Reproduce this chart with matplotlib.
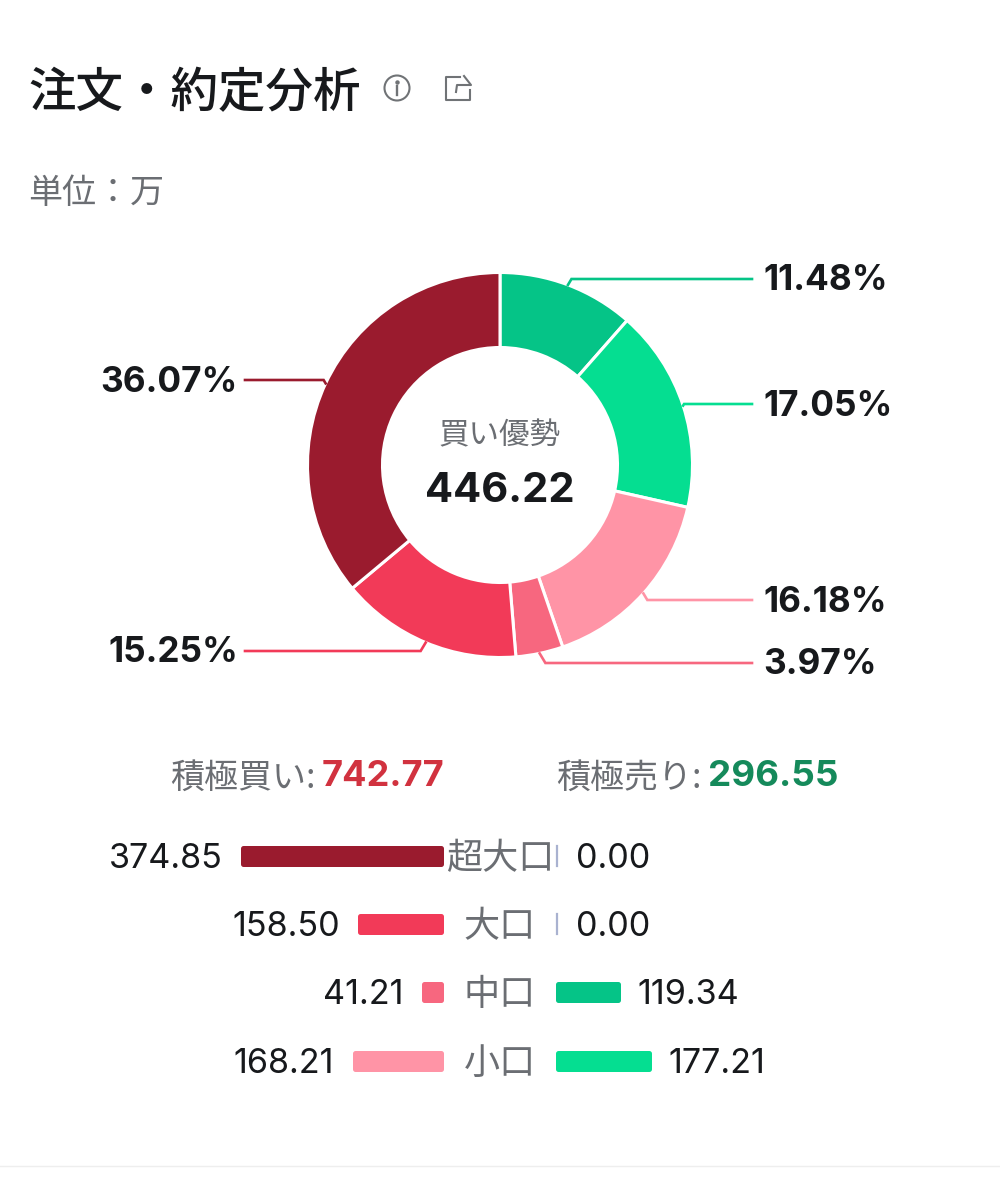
import numpy as np
import matplotlib
matplotlib.use("Agg")
import matplotlib.pyplot as plt
from matplotlib.patches import Circle

plt.rcParams['font.family'] = ['Noto Sans CJK JP', 'DejaVu Sans']

# Order-flow data, in units of 10,000 shares
sizes = ["超大口", "大口", "中口", "小口"]
buy_values = [374.85, 158.50, 41.21, 168.21]
sell_values = [0.00, 0.00, 119.34, 177.21]
buy_labels = ["374.85", "158.50", "41.21", "168.21"]
sell_labels = ["0.00", "0.00", "119.34", "177.21"]

# Ring segments, clockwise from twelve o'clock
ring_values = [119.34, 177.21, 168.21, 41.21, 158.50, 374.85]
ring_labels = ["11.48%", "17.05%", "16.18%", "3.97%", "15.25%", "36.07%"]
ring_colors = ["#05C487", "#05DE91", "#FF94A6", "#F7677F", "#F23A58", "#9A1B2E"]
buy_colors = ["#9A1B2E", "#F23A58", "#F7677F", "#FF94A6"]
sell_colors = ["#A9B2D0", "#A9B2D0", "#05C487", "#05DE91"]

title = "注文・約定分析"
unit_text = "単位：万"
center_caption = "買い優勢"
center_value = "446.22"
buy_total_caption, buy_total = "積極買い:", "742.77"
sell_total_caption, sell_total = "積極売り:", "296.55"

W, H = 1000, 1200
fig = plt.figure(figsize=(W / 100, H / 100), dpi=100, facecolor="white")

# Full-figure layer addressed in pixels for text, icons and leader lines
ov = fig.add_axes([0, 0, 1, 1], zorder=3)
ov.set_xlim(0, W)
ov.set_ylim(H, 0)
ov.axis("off")
ov.patch.set_alpha(0)

NUM_FONT = ['Inter', 'Noto Sans CJK JP']
INK = "#17191C"
GREY = "#6B6E73"
ICON = "#707376"

# Donut
cx, cy, R = 500, 465, 192.5
pie_ax = fig.add_axes([(cx - R) / W, 1 - (cy + R) / H, 2 * R / W, 2 * R / H])
wedges, _ = pie_ax.pie(
    ring_values, colors=ring_colors, startangle=90, counterclock=False, radius=1,
    wedgeprops=dict(width=75 / R, edgecolor="white", linewidth=2.2),
)
pie_ax.set_xlim(-1, 1)
pie_ax.set_ylim(-1, 1)

# Leader lines: a short elbow from the ring edge, then a horizontal run to the label
leader_y = [279, 404, 600, 663, 651, 380]
for w, ly, lab, col in zip(wedges, leader_y, ring_labels, ring_colors):
    a = np.deg2rad((w.theta1 + w.theta2) / 2)
    sx, sy = cx + R * np.cos(a), cy - R * np.sin(a)
    right = np.cos(a) > 0
    dy = abs(ly - sy)
    kx = sx + dy * 0.6 * (1 if right else -1)
    ex = 752 if right else 245
    ov.plot([sx, kx, ex], [sy, ly, ly], color=col, lw=1.9, solid_joinstyle="miter")
    tx = 763 if right else 238
    ov.text(tx, ly + 2, lab, ha="left" if right else "right", va="center",
            fontsize=25.3, fontweight="bold", color=INK, family=NUM_FONT)

ov.text(cx, 436, center_caption, ha="center", va="center", fontsize=22, color=GREY)
ov.text(cx, 491, center_value, ha="center", va="center", fontsize=30,
        fontweight="bold", color=INK, family=NUM_FONT)

# Header
ov.text(28.5, 94, title, ha="left", va="center", fontsize=34.2, fontweight="medium", color=INK)
ov.text(28, 194, unit_text, ha="left", va="center", fontsize=24.5, color=GREY)

# Info icon
ov.add_patch(Circle((397, 88), 12.5, fill=False, ec=ICON, lw=1.5))
ov.plot([397, 397], [86, 95], color=ICON, lw=1.7)
ov.plot([397], [81.5], "o", color=ICON, ms=2.2)

# Share icon
ov.plot([460, 446, 446, 470, 470], [77, 77, 100, 100, 90], color=ICON, lw=1.5,
        solid_joinstyle="round")
ov.plot([456, 457, 471, 464], [92, 85, 85, 76], color=ICON, lw=1.5,
        solid_joinstyle="round")

# Aggressive buy / sell totals
ov.text(170, 778, buy_total_caption, ha="left", va="center", fontsize=24.5, color=GREY)
ov.text(322, 776, buy_total, ha="left", va="center", fontsize=26, fontweight="bold",
        color="#D1323F", family=NUM_FONT)
ov.text(556, 778, sell_total_caption, ha="left", va="center", fontsize=24.5, color=GREY)
ov.text(708.5, 776, sell_total, ha="left", va="center", fontsize=26.5, fontweight="bold",
        color="#158A5B", family=NUM_FONT)

# Mirrored bars by order size; stroke width supplies the rounded corners
PX_PER_UNIT = 203 / 374.85
BUY_ZERO, SELL_ZERO = 443.5, 555.5
row_y = [856, 924, 992, 1061]
bar_ax = fig.add_axes([0, 0, 1, 1], zorder=2)
bar_ax.set_xlim(0, W)
bar_ax.set_ylim(H, 0)
bar_ax.axis("off")
for i, y in enumerate(row_y):
    bw = buy_values[i] * PX_PER_UNIT
    sw = sell_values[i] * PX_PER_UNIT
    bar_ax.barh(y, -bw + 5, left=BUY_ZERO - 2.5, height=15.5, color=buy_colors[i],
                edgecolor=buy_colors[i], linewidth=3.6, joinstyle="round")
    if sell_values[i] > 0:
        bar_ax.barh(y, sw - 5, left=SELL_ZERO + 2.5, height=15.5, color=sell_colors[i],
                    edgecolor=sell_colors[i], linewidth=3.6, joinstyle="round")
    else:
        bar_ax.plot([SELL_ZERO + 1, SELL_ZERO + 1], [y - 10, y + 10], color=sell_colors[i], lw=1.6)

    ov.text(BUY_ZERO - bw - 18, y + 3, buy_labels[i], ha="right", va="center",
            fontsize=24.6, color=INK, family=NUM_FONT)
    ov.text(SELL_ZERO + sw + 17 + (3 if sell_values[i] == 0 else 0), y + 3, sell_labels[i],
            ha="left", va="center", fontsize=24.6, color=INK, family=NUM_FONT)
    ov.text(500, y + 3, sizes[i], ha="center", va="center", fontsize=26, color=GREY)

# Hairline closing the card
ov.plot([0, W], [1166, 1166], color="#EEEEEE", lw=1)

fig.savefig("out.png", dpi=100)
